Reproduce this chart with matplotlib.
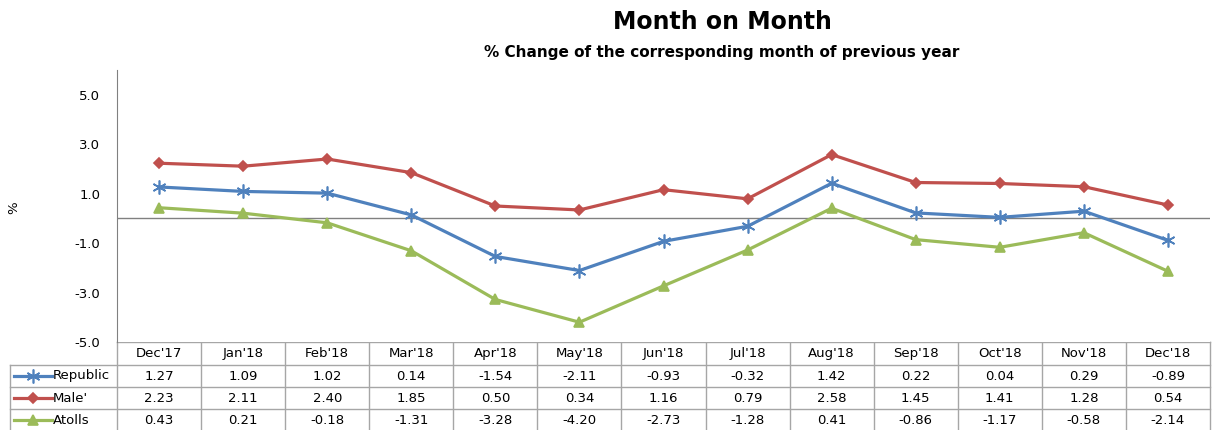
import numpy as np
import matplotlib.pyplot as plt

# data
months = ["Dec'17", "Jan'18", "Feb'18", "Mar'18", "Apr'18", "May'18", "Jun'18",
          "Jul'18", "Aug'18", "Sep'18", "Oct'18", "Nov'18", "Dec'18"]
republic = [1.27, 1.09, 1.02, 0.14, -1.54, -2.11, -0.93, -0.32, 1.42, 0.22, 0.04, 0.29, -0.89]
male = [2.23, 2.11, 2.40, 1.85, 0.50, 0.34, 1.16, 0.79, 2.58, 1.45, 1.41, 1.28, 0.54]
atolls = [0.43, 0.21, -0.18, -1.31, -3.28, -4.20, -2.73, -1.28, 0.41, -0.86, -1.17, -0.58, -2.14]
series_names = ["Republic", "Male'", "Atolls"]
yticks = [-5.0, -3.0, -1.0, 1.0, 3.0, 5.0]

colors = ["#4F81BD", "#C0504D", "#9BBB59"]
markers = [(6, 2, 0), "D", "^"]
msizes = [10, 5, 7]

plt.rcParams["font.family"] = ["DejaVu Sans"]

W, H = 1214, 430
fig = plt.figure(figsize=(W / 100, H / 100), dpi=100)

# plot area in pixels
left, right, top, bottom = 117, 1210, 70, 342
ax = fig.add_axes([left / W, 1 - bottom / H, (right - left) / W, (bottom - top) / H])

x = np.arange(len(months))
for vals, c, m, ms in zip([republic, male, atolls], colors, markers, msizes):
    ax.plot(x, vals, color=c, lw=2.3, marker=m, ms=ms, mec=c, mfc=c, mew=1.2, zorder=3)

ax.set_xlim(-0.5, len(months) - 0.5)
ax.set_ylim(-5, 6)
ax.set_yticks(yticks)
ax.set_yticklabels([f"{v:.1f}" for v in yticks], fontsize=9.5)
ax.tick_params(axis="y", length=0, pad=12)
ax.set_xticks([])
ax.axhline(0, color="#808080", lw=1, zorder=1)
for s in ["top", "right", "bottom"]:
    ax.spines[s].set_visible(False)
ax.spines["left"].set_color("#808080")
fig.text(14 / W, 1 - 208 / H, "%", rotation=90, fontsize=9.5, ha="center", va="center")

# data table under the chart, drawn on a pixel-coordinate overlay
tax = fig.add_axes([0, 0, 1, 1], zorder=-1)
tax.set_xlim(0, W)
tax.set_ylim(H, 0)
tax.axis("off")
grid_c = "#A6A6A6"
row_y = [342, 365, 387, 409, 431]
lab_left = 10
col_w = (right - left) / len(months)
col_edges = [left + i * col_w for i in range(len(months) + 1)]

tax.plot([left, right], [row_y[0], row_y[0]], color=grid_c, lw=1)
for yy in row_y[1:]:
    tax.plot([lab_left, right], [yy, yy], color=grid_c, lw=1)
for xx in col_edges:
    tax.plot([xx, xx], [row_y[0], H], color=grid_c, lw=1)
tax.plot([lab_left, lab_left], [row_y[1], H], color=grid_c, lw=1)

for i, mth in enumerate(months):
    xc = left + (i + 0.5) * col_w
    tax.text(xc, (row_y[0] + row_y[1]) / 2, mth, ha="center", va="center", fontsize=9.5)
    for r, vals in enumerate([republic, male, atolls]):
        tax.text(xc, (row_y[r + 1] + row_y[r + 2]) / 2, f"{vals[i]:.2f}",
                 ha="center", va="center", fontsize=9.5)

# legend keys in the row label cells
for r, (name, c, m, ms) in enumerate(zip(series_names, colors, markers, msizes)):
    yc = (row_y[r + 1] + row_y[r + 2]) / 2
    tax.plot([14, 52], [yc, yc], color=c, lw=2.3)
    tax.plot([33], [yc], color=c, marker=m, ms=ms, mfc=c, mec=c, mew=1.2)
    tax.text(53, yc, name, ha="left", va="center", fontsize=9.5)

fig.text(722 / W, 1 - 22 / H, "Month on Month", ha="center", va="center",
         fontsize=17, fontweight="bold", family=["Liberation Sans Narrow", "DejaVu Sans"])
fig.text(722 / W, 1 - 52 / H, "% Change of the corresponding month of previous year",
         ha="center", va="center", fontsize=11, fontweight="bold",
         family=["Liberation Sans Narrow", "DejaVu Sans"])

fig.savefig("out.png", dpi=100)
